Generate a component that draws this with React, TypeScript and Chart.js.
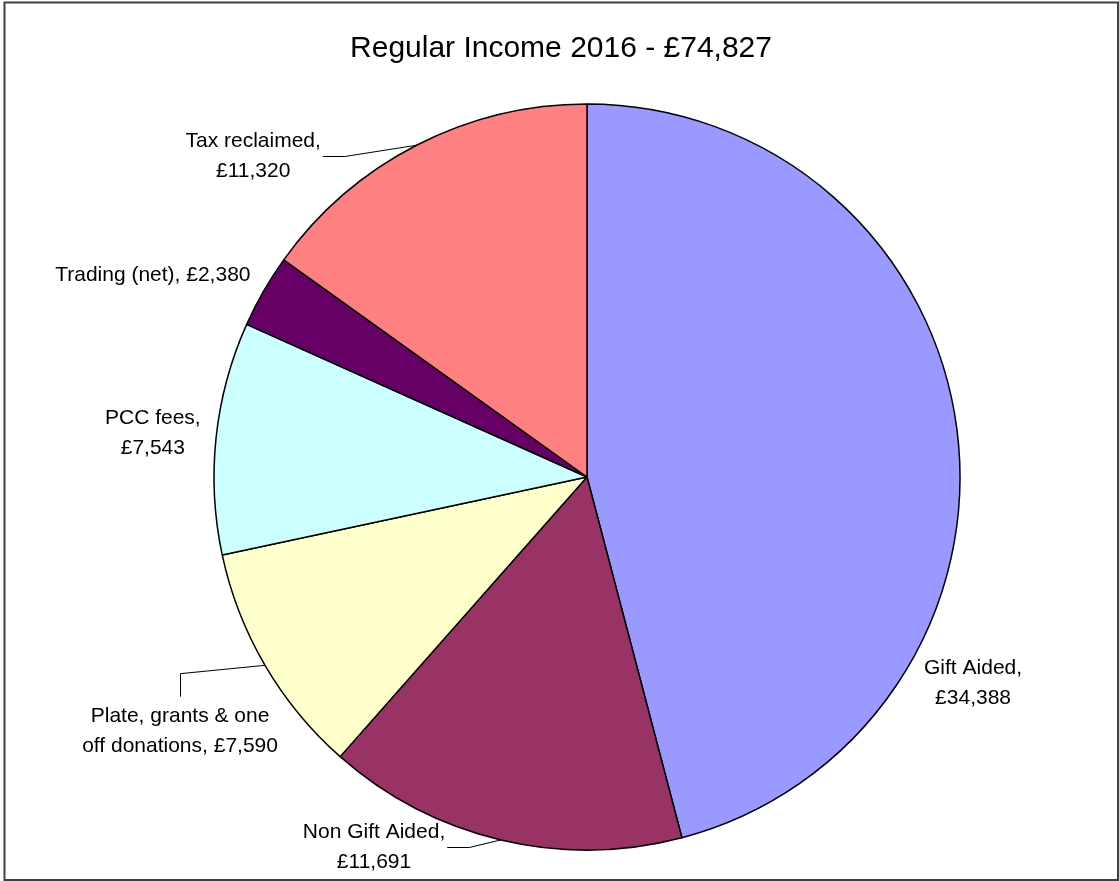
import React, { useEffect, useRef } from "react";
import { Chart, registerables } from "chart.js";

Chart.register(...registerables);

const TITLE = "Regular Income 2016 - £74,827";
const categories = [
  "Gift Aided",
  "Non Gift Aided",
  "Plate, grants & one off donations",
  "PCC fees",
  "Trading (net)",
  "Tax reclaimed",
];
const values = [34388, 11691, 7590, 7543, 2380, 11320];
const colors = ["#9999FF", "#993366", "#FFFFCC", "#CCFFFF", "#660066", "#FF8080"];
// number of words on the first label line (0 = single line)
const wrapWords = [2, 3, 4, 2, 0, 2];
// label block centre relative to pie centre, in units of the radius; leader style
const labelLayout = [
  { dx: 1.035, dy: 0.547, leader: "" },
  { dx: -0.571, dy: 0.987, leader: "h" },
  { dx: -1.091, dy: 0.676, leader: "v" },
  { dx: -1.164, dy: -0.122, leader: "" },
  { dx: -1.164, dy: -0.546, leader: "" },
  { dx: -0.895, dy: -0.865, leader: "h" },
];

const FONT = '"Liberation Sans", Arial, sans-serif';

const fmt = (v: number) => "£" + v.toLocaleString("en-GB");

function labelLines(i: number): string[] {
  const full = `${categories[i]}, ${fmt(values[i])}`;
  const words = full.split(" ");
  const n = wrapWords[i];
  if (!n) return [full];
  return [words.slice(0, n).join(" "), words.slice(n).join(" ")];
}

const decorPlugin = {
  id: "decor",
  beforeDraw(chart: any) {
    const { ctx, width, height } = chart;
    ctx.save();
    ctx.fillStyle = "#ffffff";
    ctx.fillRect(0, 0, width, height);
    ctx.restore();
  },
  afterDraw(chart: any) {
    const { ctx } = chart;
    ctx.save();
    // outer frame
    ctx.strokeStyle = "#404040";
    ctx.lineWidth = 2;
    ctx.strokeRect(4.5, 2.5, 1113.5, 877.5);
    // title
    ctx.fillStyle = "#000";
    ctx.font = `30px ${FONT}`;
    ctx.textAlign = "center";
    ctx.textBaseline = "alphabetic";
    ctx.fillText(TITLE, 561, 57);

    const meta = chart.getDatasetMeta(0);
    ctx.font = `21px ${FONT}`;
    const lineH = 30;
    meta.data.forEach((arc: any, i: number) => {
      const { x: cx, y: cy, outerRadius: r, startAngle, endAngle } = arc.getProps(
        ["x", "y", "outerRadius", "startAngle", "endAngle"],
        true
      );
      const lay = labelLayout[i];
      const tx = cx + lay.dx * r;
      const ty = cy + lay.dy * r;
      const lines = labelLines(i);
      const n = lines.length;
      ctx.fillStyle = "#000";
      ctx.textAlign = "center";
      lines.forEach((ln, k) => {
        const centre = ty + (k - (n - 1) / 2) * lineH;
        ctx.fillText(ln, tx, centre + 7.5);
      });
      if (lay.leader) {
        const mid = (startAngle + endAngle) / 2;
        const ex = cx + Math.cos(mid) * r;
        const ey = cy + Math.sin(mid) * r;
        const maxW = Math.max(...lines.map((l) => ctx.measureText(l).width));
        ctx.strokeStyle = "#000";
        ctx.lineWidth = 1;
        ctx.beginPath();
        if (lay.leader === "h") {
          const side = ex > tx ? 1 : -1;
          const sx = tx + side * (maxW / 2 + 2);
          const sy = Math.round(ty + 2) + 0.5;
          ctx.moveTo(sx, sy);
          ctx.lineTo(sx + side * 22, sy);
          ctx.lineTo(ex, ey);
        } else {
          const sx = Math.round(tx) + 0.5;
          const top = ty - (n - 1) / 2 * lineH - 7.5;
          const sy = top - 10;
          ctx.moveTo(sx, sy);
          ctx.lineTo(sx, sy - 23);
          ctx.lineTo(ex, ey);
        }
        ctx.stroke();
      }
    });
    ctx.restore();
  },
};

export default function App() {
  const ref = useRef<HTMLCanvasElement>(null);
  useEffect(() => {
    document.body.style.margin = "0";
    const chart = new Chart(ref.current!, {
      type: "pie",
      data: {
        labels: categories,
        datasets: [
          {
            data: values,
            backgroundColor: colors,
            borderColor: "#000",
            borderWidth: 1.5,
            radius: 373,
          } as any,
        ],
      },
      options: {
        animation: false,
        responsive: false,
        events: [],
        layout: { padding: { left: 100, right: 45, top: 90, bottom: 17 } },
        plugins: {
          legend: { display: false },
          title: { display: false },
          tooltip: { enabled: false },
        },
      },
      plugins: [decorPlugin],
    });
    return () => chart.destroy();
  }, []);
  return (
    <canvas
      ref={ref}
      width={1119}
      height={881}
      style={{ display: "block", position: "absolute", left: 0, top: 0, width: 1119, height: 881 }}
    />
  );
}
